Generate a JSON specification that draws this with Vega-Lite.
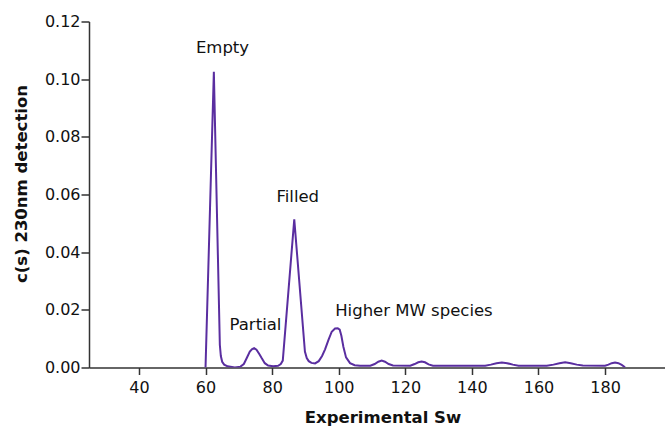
{
  "$schema": "https://vega.github.io/schema/vega-lite/v6.json",
  "width": 576,
  "height": 346,
  "autosize": {"type": "none"},
  "padding": {"left": 89, "top": 21.5, "right": 0, "bottom": 62.5},
  "background": "white",
  "config": {
    "view": {"stroke": null},
    "font": "DejaVu Sans",
    "axis": {
      "grid": false,
      "domainColor": "#333333",
      "domainWidth": 1.5,
      "tickColor": "#333333",
      "tickWidth": 1.5,
      "labelFont": "DejaVu Sans",
      "labelFontSize": 16,
      "labelColor": "#111111",
      "titleFont": "DejaVu Sans",
      "titleFontSize": 16.5,
      "titleFontWeight": "bold",
      "titleColor": "#111111"
    }
  },
  "datasets": {
    "curve": [
      {"s": 60.0, "c": 0},
      {"s": 62.5, "c": 0.1026},
      {"s": 64.3, "c": 0.0078},
      {"s": 64.6, "c": 0.004},
      {"s": 65.0, "c": 0.002},
      {"s": 65.6, "c": 0.001},
      {"s": 66.6, "c": 0.0004},
      {"s": 68.8, "c": 0.0},
      {"s": 70.5, "c": 0.0003},
      {"s": 71.5, "c": 0.0012},
      {"s": 72.35, "c": 0.0032},
      {"s": 73.3, "c": 0.0055},
      {"s": 74.0, "c": 0.0064},
      {"s": 74.6, "c": 0.0067},
      {"s": 75.3, "c": 0.0062},
      {"s": 76.1, "c": 0.0048},
      {"s": 76.9, "c": 0.0032},
      {"s": 77.8, "c": 0.0015},
      {"s": 78.8, "c": 0.0007},
      {"s": 80.3, "c": 0.0004},
      {"s": 81.8, "c": 0.0006},
      {"s": 82.6, "c": 0.0012},
      {"s": 83.2, "c": 0.0024},
      {"s": 86.65, "c": 0.0514},
      {"s": 89.85, "c": 0.0055},
      {"s": 90.4, "c": 0.0033},
      {"s": 91.0, "c": 0.0022},
      {"s": 91.8, "c": 0.0016},
      {"s": 92.9, "c": 0.0014},
      {"s": 94.0, "c": 0.0022},
      {"s": 95.0, "c": 0.004},
      {"s": 95.9, "c": 0.0063},
      {"s": 96.9, "c": 0.0095},
      {"s": 97.9, "c": 0.0124},
      {"s": 98.9, "c": 0.0135},
      {"s": 99.7, "c": 0.0136},
      {"s": 100.3, "c": 0.0131},
      {"s": 100.8, "c": 0.011},
      {"s": 101.4, "c": 0.0072},
      {"s": 102.2, "c": 0.0035},
      {"s": 103.4, "c": 0.0015},
      {"s": 104.8, "c": 0.0008},
      {"s": 106.4, "c": 0.0006},
      {"s": 109.5, "c": 0.0006},
      {"s": 110.8, "c": 0.0012},
      {"s": 111.9, "c": 0.002},
      {"s": 112.9, "c": 0.0024},
      {"s": 113.9, "c": 0.002},
      {"s": 115.0, "c": 0.0012},
      {"s": 116.3, "c": 0.0007},
      {"s": 121.5, "c": 0.0006},
      {"s": 122.8, "c": 0.0012},
      {"s": 123.9, "c": 0.0018},
      {"s": 124.9, "c": 0.0021},
      {"s": 125.9, "c": 0.0018},
      {"s": 127.0, "c": 0.0011},
      {"s": 128.3, "c": 0.0006},
      {"s": 144.0, "c": 0.0006},
      {"s": 145.7, "c": 0.001},
      {"s": 147.4, "c": 0.0015},
      {"s": 149.0, "c": 0.0017},
      {"s": 150.6, "c": 0.0015},
      {"s": 152.3, "c": 0.001},
      {"s": 154.0, "c": 0.0006},
      {"s": 162.5, "c": 0.0006},
      {"s": 164.5, "c": 0.001},
      {"s": 166.3, "c": 0.0015},
      {"s": 168.0, "c": 0.0018},
      {"s": 169.7, "c": 0.0015},
      {"s": 171.5, "c": 0.001},
      {"s": 173.3, "c": 0.0007},
      {"s": 180.0, "c": 0.0006},
      {"s": 181.0, "c": 0.001},
      {"s": 182.0, "c": 0.0015},
      {"s": 183.0, "c": 0.0017},
      {"s": 184.0, "c": 0.0015},
      {"s": 185.0, "c": 0.0009},
      {"s": 186.0, "c": 0.0001}
    ],
    "labels": [
      {"s": 65.1, "c": 0.109, "label": "Empty"},
      {"s": 87.7, "c": 0.0575, "label": "Filled"},
      {"s": 75.0, "c": 0.013, "label": "Partial"},
      {"s": 122.6, "c": 0.0179, "label": "Higher MW species"}
    ]
  },
  "layer": [
    {
      "data": {"name": "curve"},
      "mark": {"type": "line", "color": "#5a2ea0", "strokeWidth": 2, "interpolate": "linear", "clip": true},
      "encoding": {
        "x": {
          "field": "s",
          "type": "quantitative",
          "scale": {"domain": [25, 198], "nice": false, "zero": false},
          "axis": {
            "title": "Experimental Sw",
            "values": [40, 60, 80, 100, 120, 140, 160, 180],
            "format": "d",
            "tickSize": 7,
            "labelPadding": 5,
            "titleX": 293.5,
            "titleY": 55.2,
            "titleBaseline": "alphabetic",
            "titleAlign": "center"
          }
        },
        "y": {
          "field": "c",
          "type": "quantitative",
          "scale": {"domain": [0, 0.12], "nice": false},
          "axis": {
            "title": "c(s) 230nm detection",
            "values": [0, 0.02, 0.04, 0.06, 0.08, 0.1, 0.12],
            "format": ".2f",
            "tickSize": 8,
            "labelPadding": 1,
            "titleX": -62.3,
            "titleY": 162,
            "titleBaseline": "alphabetic",
            "titleAlign": "center",
            "titleAngle": -90
          }
        }
      }
    },
    {
      "data": {"name": "labels"},
      "mark": {"type": "text", "font": "DejaVu Sans", "fontSize": 16.5, "color": "#111111", "align": "center", "baseline": "alphabetic"},
      "encoding": {
        "x": {"field": "s", "type": "quantitative"},
        "y": {"field": "c", "type": "quantitative"},
        "text": {"field": "label"}
      }
    }
  ]
}
